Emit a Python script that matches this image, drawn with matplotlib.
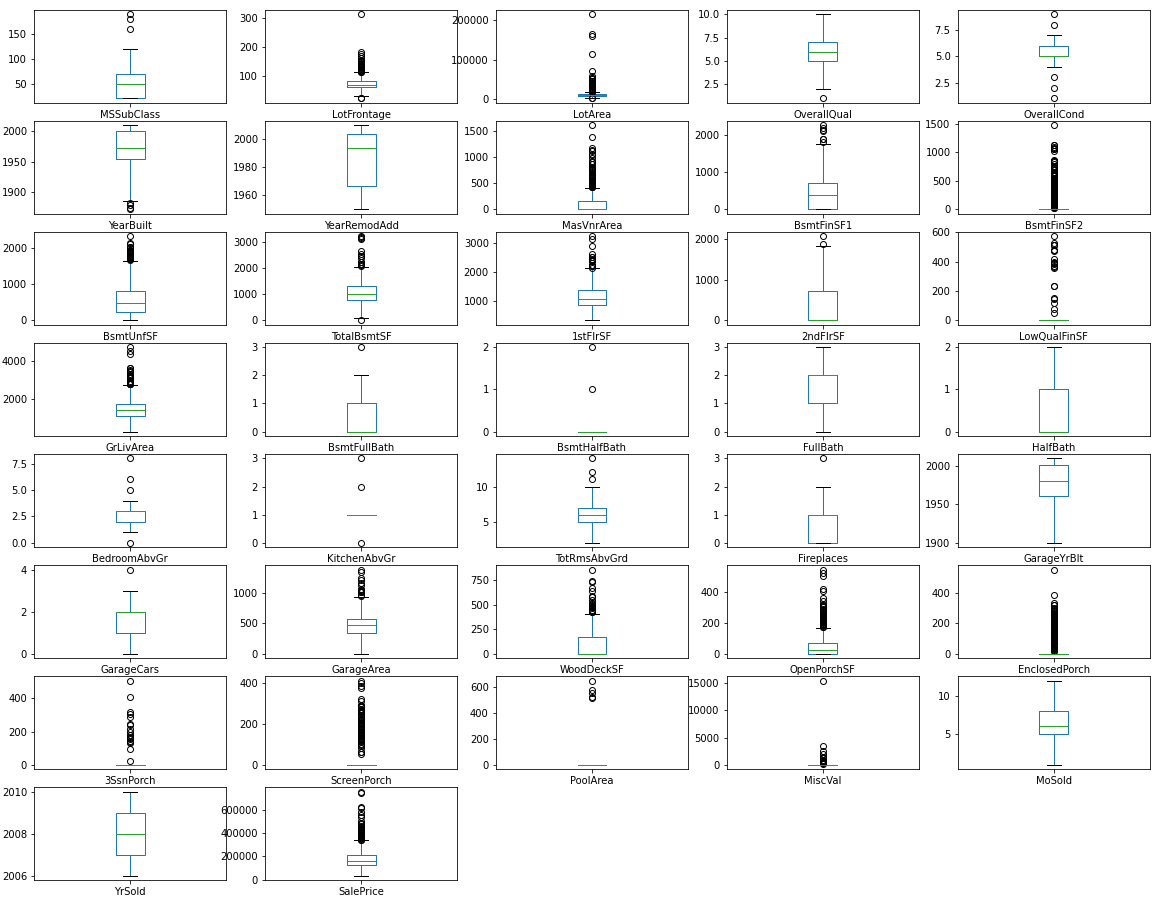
import matplotlib
matplotlib.use("Agg")
import matplotlib.pyplot as plt

# box statistics per column
columns = ['MSSubClass', 'LotFrontage', 'LotArea', 'OverallQual', 'OverallCond',
           'YearBuilt', 'YearRemodAdd', 'MasVnrArea', 'BsmtFinSF1', 'BsmtFinSF2',
           'BsmtUnfSF', 'TotalBsmtSF', '1stFlrSF', '2ndFlrSF', 'LowQualFinSF',
           'GrLivArea', 'BsmtFullBath', 'BsmtHalfBath', 'FullBath', 'HalfBath',
           'BedroomAbvGr', 'KitchenAbvGr', 'TotRmsAbvGrd', 'Fireplaces', 'GarageYrBlt',
           'GarageCars', 'GarageArea', 'WoodDeckSF', 'OpenPorchSF', 'EnclosedPorch',
           '3SsnPorch', 'ScreenPorch', 'PoolArea', 'MiscVal', 'MoSold',
           'YrSold', 'SalePrice']

q1 = [20, 59, 7550, 5, 5, 1954, 1967, 0, 0, 0,
      223, 795, 882, 0, 0, 1129, 0, 0, 1, 0,
      2, 1, 5, 0, 1961, 1, 334, 0, 0, 0,
      0, 0, 0, 0, 5, 2007, 129950]
med = [50, 69, 9478, 6, 5, 1973, 1994, 0, 383, 0,
       478, 991, 1086, 0, 0, 1464, 0, 0, 2, 0,
       3, 1, 6, 1, 1980, 2, 480, 0, 25, 0,
       0, 0, 0, 0, 6, 2008, 163000]
q3 = [70, 80, 11600, 7, 6, 2000, 2004, 166, 712, 0,
      808, 1298, 1391, 728, 0, 1776, 1, 0, 2, 1,
      3, 1, 7, 1, 2002, 2, 576, 168, 68, 0,
      0, 0, 0, 0, 8, 2009, 214000]
whislo = [20, 30, 1491, 2, 4, 1885, 1950, 0, 0, 0,
          0, 105, 334, 0, 0, 334, 0, 0, 0, 0,
          1, 1, 2, 0, 1900, 0, 0, 0, 0, 0,
          0, 0, 0, 0, 1, 2006, 34900]
whishi = [120, 111, 17600, 10, 7, 2010, 2010, 415, 1767, 0,
          1665, 2046, 2136, 1818, 0, 2730, 2, 0, 3, 2,
          4, 1, 10, 2, 2010, 3, 936, 406, 170, 0,
          0, 0, 0, 0, 12, 2010, 340000]

fliers = [
    [160, 180, 190],
    [21, 24, 112, 114, 115, 116, 118, 120, 121, 122, 124, 128, 129, 130, 134, 137,
     138, 140, 141, 144, 149, 150, 152, 153, 160, 168, 174, 182, 313],
    [1300, 1477, 17920, 18450, 19138, 19900, 20544, 21000, 21535, 21872, 22420,
     23257, 24090, 25095, 25419, 26178, 28698, 29959, 31770, 32668, 34650, 35760,
     36500, 39104, 40094, 45600, 46589, 50271, 53107, 53504, 57200, 70761, 115149,
     159000, 164660, 215245],
    [1],
    [1, 2, 3, 8, 9],
    [1872, 1875, 1880, 1882],
    [],
    [420, 424, 428, 436, 442, 450, 456, 464, 472, 480, 488, 500, 506, 513, 528, 541,
     554, 567, 576, 594, 604, 615, 630, 640, 650, 660, 680, 705, 730, 748, 762, 772,
     788, 796, 816, 860, 870, 894, 921, 975, 1031, 1047, 1115, 1129, 1170, 1378, 1600],
    [1810, 1880, 1904, 2096, 2146, 2188, 2260],
    [28, 32, 40, 41, 64, 68, 80, 93, 96, 102, 108, 117, 123, 127, 138, 147, 165, 180,
     193, 206, 215, 228, 239, 250, 264, 276, 290, 306, 311, 324, 345, 352, 374, 391,
     400, 411, 420, 435, 441, 456, 468, 479, 483, 492, 506, 522, 532, 547, 551, 580,
     590, 600, 612, 627, 630, 645, 660, 682, 690, 712, 723, 750, 768, 791, 830, 844,
     856, 869, 1029, 1057, 1061, 1080, 1085, 1120, 1127, 1474],
    [1680, 1694, 1705, 1710, 1734, 1753, 1768, 1777, 1795, 1800, 1824, 1836, 1869,
     1905, 1907, 1926, 1935, 1969, 2002, 2042, 2046, 2121, 2153, 2336],
    [0, 2077, 2110, 2136, 2153, 2158, 2216, 2223, 2392, 2444, 2461, 2524, 2633,
     3094, 3138, 3200, 3206],
    [2156, 2196, 2207, 2217, 2234, 2259, 2364, 2392, 2402, 2411, 2444, 2515, 2524,
     2633, 2898, 3138, 3228],
    [1872, 2065],
    [53, 80, 120, 144, 156, 232, 234, 360, 362, 371, 384, 390, 392, 397, 420, 473,
     479, 481, 513, 514, 515, 528, 572],
    [2775, 2782, 2792, 2810, 2822, 2836, 2842, 2868, 2872, 2945, 3082, 3112, 3140,
     3194, 3222, 3238, 3279, 3395, 3447, 3493, 3608, 3627, 4316, 4476, 4676],
    [3],
    [1, 2],
    [],
    [],
    [0, 5, 6, 8],
    [0, 2, 3],
    [11, 12, 14],
    [3],
    [],
    [4],
    [954, 968, 1014, 1020, 1025, 1043, 1052, 1069, 1134, 1166, 1220, 1248, 1356, 1390],
    [426, 428, 431, 436, 441, 466, 474, 480, 486, 500, 503, 511, 519, 550, 574, 586,
     635, 668, 728, 736, 857],
    [172, 174, 182, 184, 188, 192, 195, 198, 203, 207, 211, 214, 219, 224, 228, 231,
     234, 236, 240, 244, 250, 252, 258, 262, 265, 274, 282, 287, 291, 304, 312, 319,
     324, 341, 364, 406, 418, 502, 523, 547],
    [19, 20, 24, 30, 34, 36, 40, 42, 48, 52, 56, 60, 64, 68, 77, 80, 84, 87, 91, 96,
     100, 102, 108, 112, 116, 120, 126, 130, 136, 140, 144, 150, 156, 164, 170, 176,
     184, 190, 196, 202, 208, 214, 220, 226, 236, 242, 248, 252, 259, 264, 272, 280,
     286, 291, 294, 301, 318, 320, 330, 386, 552],
    [23, 96, 130, 140, 144, 153, 162, 168, 180, 182, 196, 216, 238, 245, 290, 304,
     320, 407, 508],
    [53, 60, 63, 80, 90, 95, 100, 111, 115, 120, 126, 130, 135, 140, 144, 147, 152,
     156, 160, 161, 168, 170, 175, 180, 184, 189, 192, 196, 198, 200, 204, 210, 216,
     220, 224, 225, 231, 234, 240, 252, 259, 260, 264, 266, 271, 273, 280, 287, 288,
     291, 312, 322, 374, 385, 396, 410],
    [512, 519, 555, 576, 648],
    [54, 350, 400, 450, 480, 500, 560, 600, 620, 700, 800, 1150, 1200, 1300, 1400,
     1500, 2000, 2500, 3500, 15500],
    [],
    [],
    [341000, 345000, 350000, 354000, 359100, 367294, 372500, 375000, 380000, 385000,
     392000, 402000, 410000, 415298, 423000, 426000, 430000, 438780, 446261, 451950,
     465000, 475000, 485000, 501837, 538000, 555000, 582933, 611657, 625000, 745000,
     755000],
]

nrow, ncol = 8, 5
fig, axes = plt.subplots(nrow, ncol, figsize=(1161 / 72, 903 / 72), dpi=72)
fig.subplots_adjust(left=0.0293, right=0.9905, top=0.9889, bottom=0.0255,
                    wspace=0.2, hspace=0.2)

for idx, ax in enumerate(axes.flat):
    if idx >= len(columns):
        fig.delaxes(ax)
        continue
    stats = [dict(label=columns[idx], med=med[idx], q1=q1[idx], q3=q3[idx],
                  whislo=whislo[idx], whishi=whishi[idx], fliers=fliers[idx])]
    ax.bxp(stats, widths=0.15,
           boxprops=dict(color='#1f77b4'),
           whiskerprops=dict(color='#1f77b4'),
           capprops=dict(color='k'),
           medianprops=dict(color='#2ca02c'),
           flierprops=dict(marker='o', markerfacecolor='none',
                           markeredgecolor='k'))
    ax.set_xlim(0.5, 1.5)

fig.savefig('out.png', dpi=72)
